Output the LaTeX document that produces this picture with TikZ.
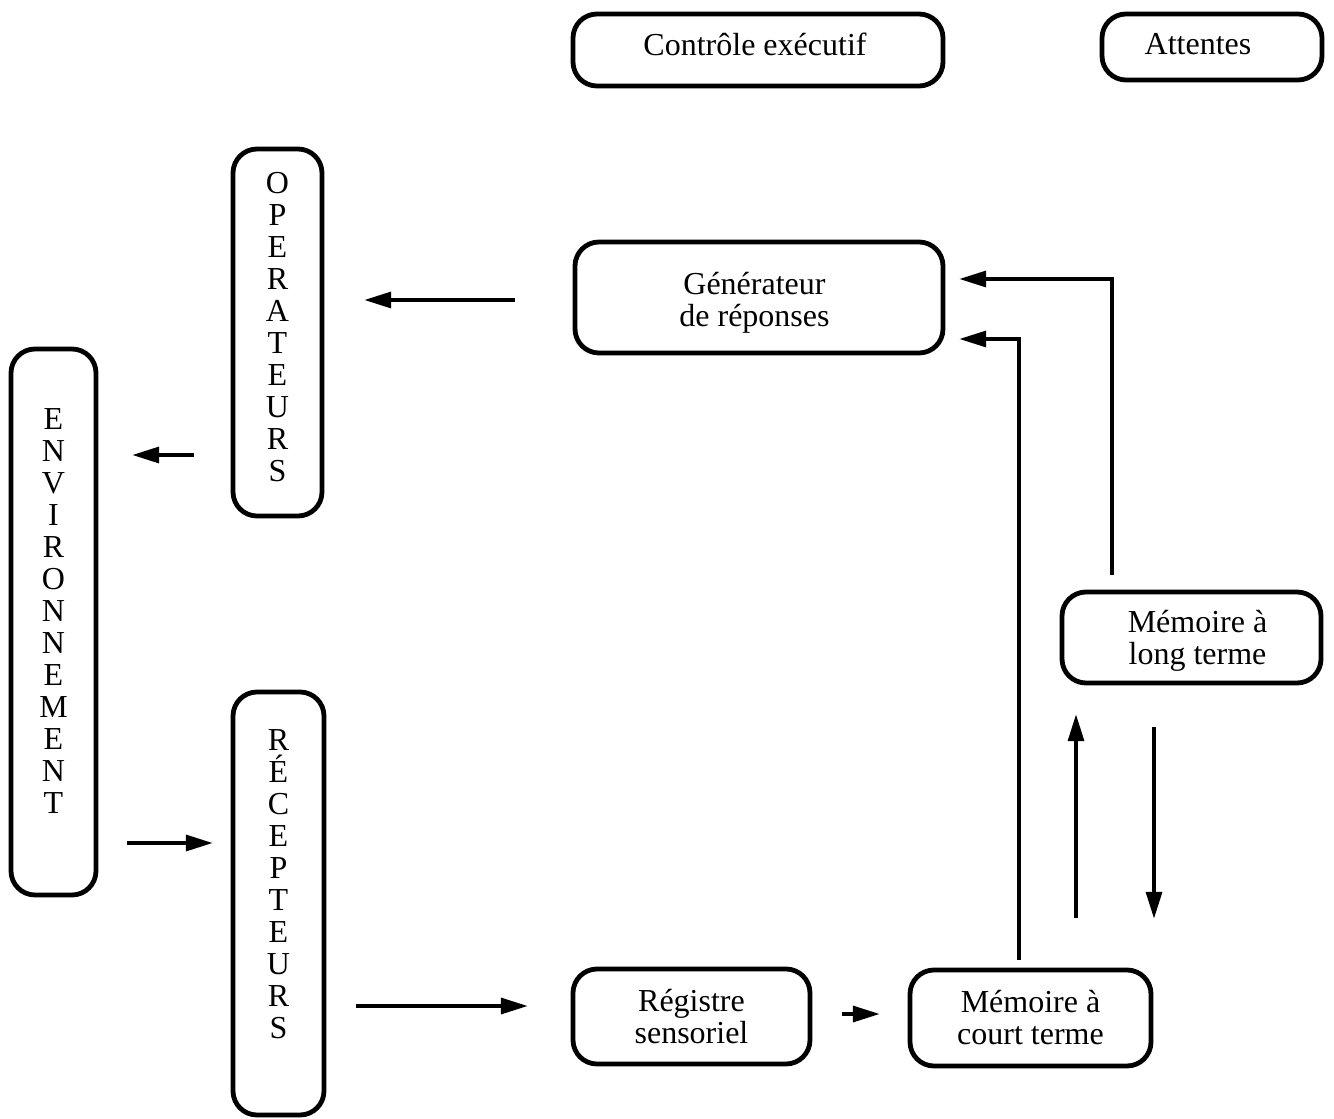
\documentclass[tikz,border=0pt]{standalone}
\usepackage{fontspec}
\setmainfont{Liberation Serif}
\usetikzlibrary{arrows.meta}
\begin{document}
\begin{tikzpicture}[x=0.75pt,y=-0.75pt,
  box/.style={draw, line width=3.6pt, rounded corners=18pt, inner sep=0pt,
    align=center, font=\fontsize{24}{24}\selectfont},
  txt/.style={align=center, inner sep=0pt, font=\fontsize{24}{24}\selectfont},
  arr/.style={line width=2.3pt, -{Triangle[length=20pt,width=12pt]}}]
\useasboundingbox (0,0) rectangle (1334,1119);

% top row
\node[box, minimum width=277.5pt, minimum height=54pt,
  label={[txt,yshift=4.5pt,xshift=-2.25pt]center:Contrôle exécutif}] (ce) at (758,50) {};
\node[box, minimum width=165pt, minimum height=49.5pt,
  label={[txt,yshift=2pt,xshift=-10.5pt]center:Attentes}] (att) at (1212,47) {};

% vertical boxes
\node[box, minimum width=66.75pt, minimum height=275.25pt,
  label={[txt,yshift=3.75pt]center:{O\\P\\E\\R\\A\\T\\E\\U\\R\\S}}] (oper) at (277.5,332.5) {};
\node[box, minimum width=63.75pt, minimum height=409.5pt,
  label={[txt,yshift=8.25pt]center:{E\\N\\V\\I\\R\\O\\N\\N\\E\\M\\E\\N\\T}}] (env) at (53.5,622) {};
\node[box, minimum width=68.25pt, minimum height=317.25pt,
  label={[txt,yshift=14.6pt]center:{R\\É\\C\\E\\P\\T\\E\\U\\R\\S}}] (rec) at (278.5,903.5) {};

% processing stages
\node[box, minimum width=276pt, minimum height=83.25pt,
  label={[txt,yshift=-3.75pt,xshift=-3.4pt]center:{Générateur\\de réponses}}] (gen) at (759,297.5) {};
\node[box, minimum width=177.75pt, minimum height=71.25pt] (reg) at (691.5,1016.5)
  {Régistre\\sensoriel};
\node[box, minimum width=180.75pt, minimum height=72pt] (mct) at (1030.5,1018)
  {Mémoire à\\court terme};
\node[box, minimum width=194.25pt, minimum height=68.25pt,
  label={[txt,yshift=-2.25pt,xshift=4.5pt]center:{Mémoire à\\long terme}}] (mlt) at (1191.5,637.5) {};

% connectors
\draw[arr, shorten <=43.5pt, shorten >=30pt] (gen.west |- 0,300) -- (oper.east |- 0,300);
\draw[arr, shorten <=27.75pt, shorten >=25.5pt] (oper.west |- 0,455) -- (env.east |- 0,455);
\draw[arr, shorten <=21.75pt, shorten >=13.5pt] (env.east |- 0,843) -- (rec.west |- 0,843);
\draw[arr, shorten <=22.5pt, shorten >=32.25pt] (rec.east |- 0,1006) -- (reg.west |- 0,1006);
\draw[arr, shorten <=22.5pt, shorten >=21pt] (reg.east |- 0,1014) -- (mct.west |- 0,1014);
\draw[arr, shorten <=6pt, shorten >=10.5pt] (mct.north -| 1019,0) |- (gen.east |- 0,339);
\draw[arr, shorten <=11.25pt, shorten >=10.5pt] (mlt.north -| 1112,0) |- (gen.east |- 0,279);
\draw[arr, shorten <=37.5pt, shorten >=21.75pt] (mct.north -| 1076,0) -- (mlt.south -| 1076,0);
\draw[arr, shorten <=31.5pt, shorten >=36.75pt] (mlt.south -| 1154,0) -- (mct.north -| 1154,0);
\end{tikzpicture}
\end{document}
